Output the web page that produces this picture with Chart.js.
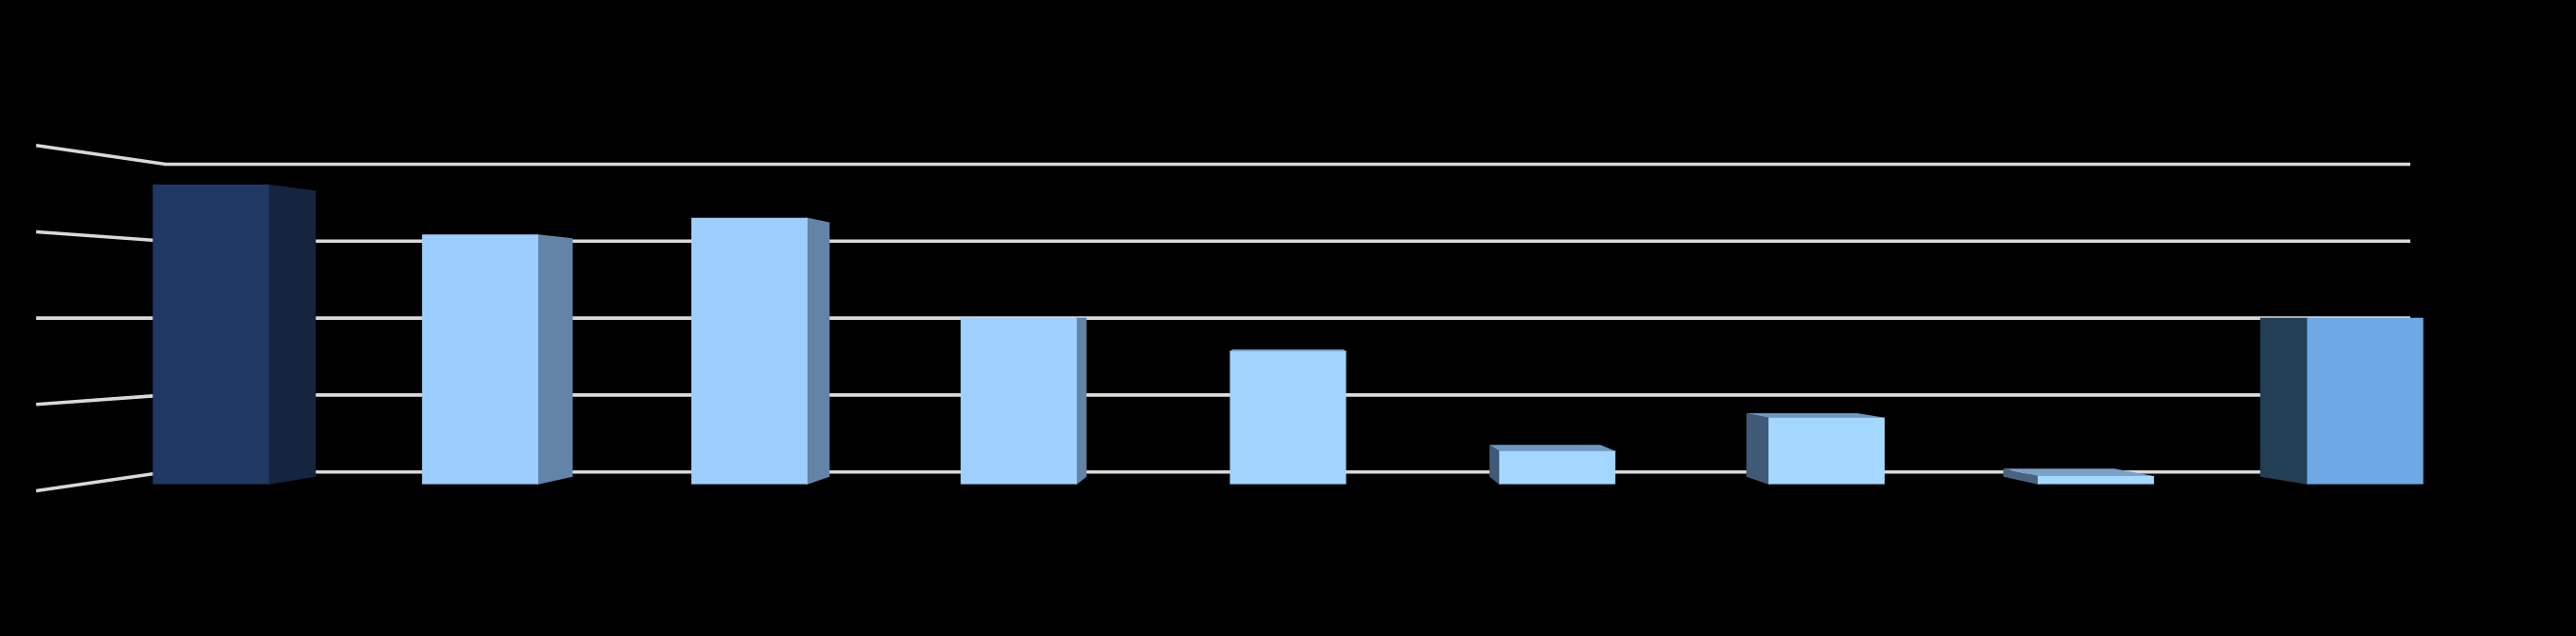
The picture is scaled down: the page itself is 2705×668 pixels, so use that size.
<!DOCTYPE html>
<html>
<head>
<meta charset="utf-8">
<title>3D column chart</title>
<style>
  html, body { margin: 0; padding: 0; background: #000; overflow: hidden; }
  canvas { display: block; }
</style>
<script src="https://cdn.jsdelivr.net/npm/chart.js@4/dist/chart.umd.min.js"></script>
</head>
<body>
<canvas id="chart" width="2705" height="668"></canvas>
<script>
/* ─────────────────────────────────────────
   DATA
───────────────────────────────────────── */
const categories = ['1', '2', '3', '4', '5', '6', '7', '8', '9'];
const barValues  = [3.6, 3.0, 3.2, 2.0, 1.6, 0.4, 0.8, 0.1, 2.0];
const wallTicks  = [0, 1, 2, 3, 4];

const frontColors = ['#1f3864', '#9bcdfe', '#9dcffe', '#9fd1ff', '#a1d4ff', '#a4d7ff', '#a5d8ff', '#a5d8ff', '#6ca9e5'];
const sideColors  = ['#15243f', '#6384a7', '#6384a7', '#6384a7', '#6384a7', '#3f5a77', '#3f5a77', '#47637f', '#233f55'];
const topColors   = ['#1f3864', '#7fa6cc', '#7fa6cc', '#6f97c2', '#6f97c2', '#6f97c2', '#6f97c2', '#7aa2c8', '#8ab8e6'];

/* ─────────────────────────────────────────
   3D PROJECTION SETTINGS
───────────────────────────────────────── */
const barDepth   = 0.954;   // back of a bar, relative to its front
const wallDepth  = 0.891;   // back wall, relative to the front of the side wall
const wallLeft   = 174;
const wallRight  = 2531;
const sideLeft   = 38;
const lineColor  = '#d9d9d9';
const lineWidth  = 3.6;
const seam       = 1.5;     // side faces tuck under the front so no gridline peeks through

function polygon(ctx, pts, color) {
  ctx.fillStyle = color;
  ctx.beginPath();
  pts.forEach((p, i) => i ? ctx.lineTo(p.x, p.y) : ctx.moveTo(p.x, p.y));
  ctx.closePath();
  ctx.fill();
}

/* Walls and bar sides go under the front faces Chart.js draws itself */
const depthPlugin = {
  id: 'depth',
  beforeDatasetsDraw(chart) {
    const { ctx, chartArea, scales } = chart;
    const vx = (chartArea.left + chartArea.right) / 2;
    const vy = scales.wall.getPixelForValue(wallTicks[2]);
    const back = (x, y) => ({ x: vx + (x - vx) * barDepth, y: vy + (y - vy) * barDepth });

    ctx.save();
    ctx.strokeStyle = lineColor;
    ctx.lineWidth = lineWidth;
    wallTicks.forEach(t => {
      const y = scales.wall.getPixelForValue(t);
      ctx.beginPath();
      ctx.moveTo(sideLeft, vy + (y - vy) / wallDepth);
      ctx.lineTo(wallLeft, y);
      ctx.lineTo(wallRight, y);
      ctx.stroke();
    });

    chart.getDatasetMeta(0).data.forEach((bar, i) => {
      const half = bar.width / 2;
      const l = bar.x - half, r = bar.x + half;
      const top = bar.y, base = bar.base;
      // side face only shows on the side facing the vanishing point
      if (r < vx) {
        polygon(ctx, [{ x: r - seam, y: top }, { x: r, y: top }, back(r, top), back(r, base), { x: r, y: base }, { x: r - seam, y: base }], sideColors[i]);
      } else if (l > vx) {
        polygon(ctx, [{ x: l + seam, y: top }, { x: l, y: top }, back(l, top), back(l, base), { x: l, y: base }, { x: l + seam, y: base }], sideColors[i]);
      }
      if (top > vy + 1) {
        polygon(ctx, [{ x: l, y: top + seam }, { x: l, y: top }, back(l, top), back(r, top), { x: r, y: top }, { x: r, y: top + seam }], topColors[i]);
      }
    });
    ctx.restore();
  }
};

/* ─────────────────────────────────────────
   CHART
───────────────────────────────────────── */
new Chart(document.getElementById('chart'), {
  type: 'bar',
  data: {
    labels: categories,
    datasets: [{
      data: barValues,
      backgroundColor: frontColors,
      borderWidth: 0,
      barPercentage: 0.4315,
      categoryPercentage: 1,
    }]
  },
  options: {
    responsive: false,
    animation: false,
    layout: { padding: { left: 80, right: 80, top: 158.7, bottom: 159.3 } },
    plugins: { legend: { display: false }, tooltip: { enabled: false } },
    scales: {
      x: { display: false },
      y: { display: false, min: 0, max: 4 },
      wall: { display: false, position: 'left', min: -0.161, max: 4.171 },
    }
  },
  plugins: [depthPlugin]
});
</script>
</body>
</html>
